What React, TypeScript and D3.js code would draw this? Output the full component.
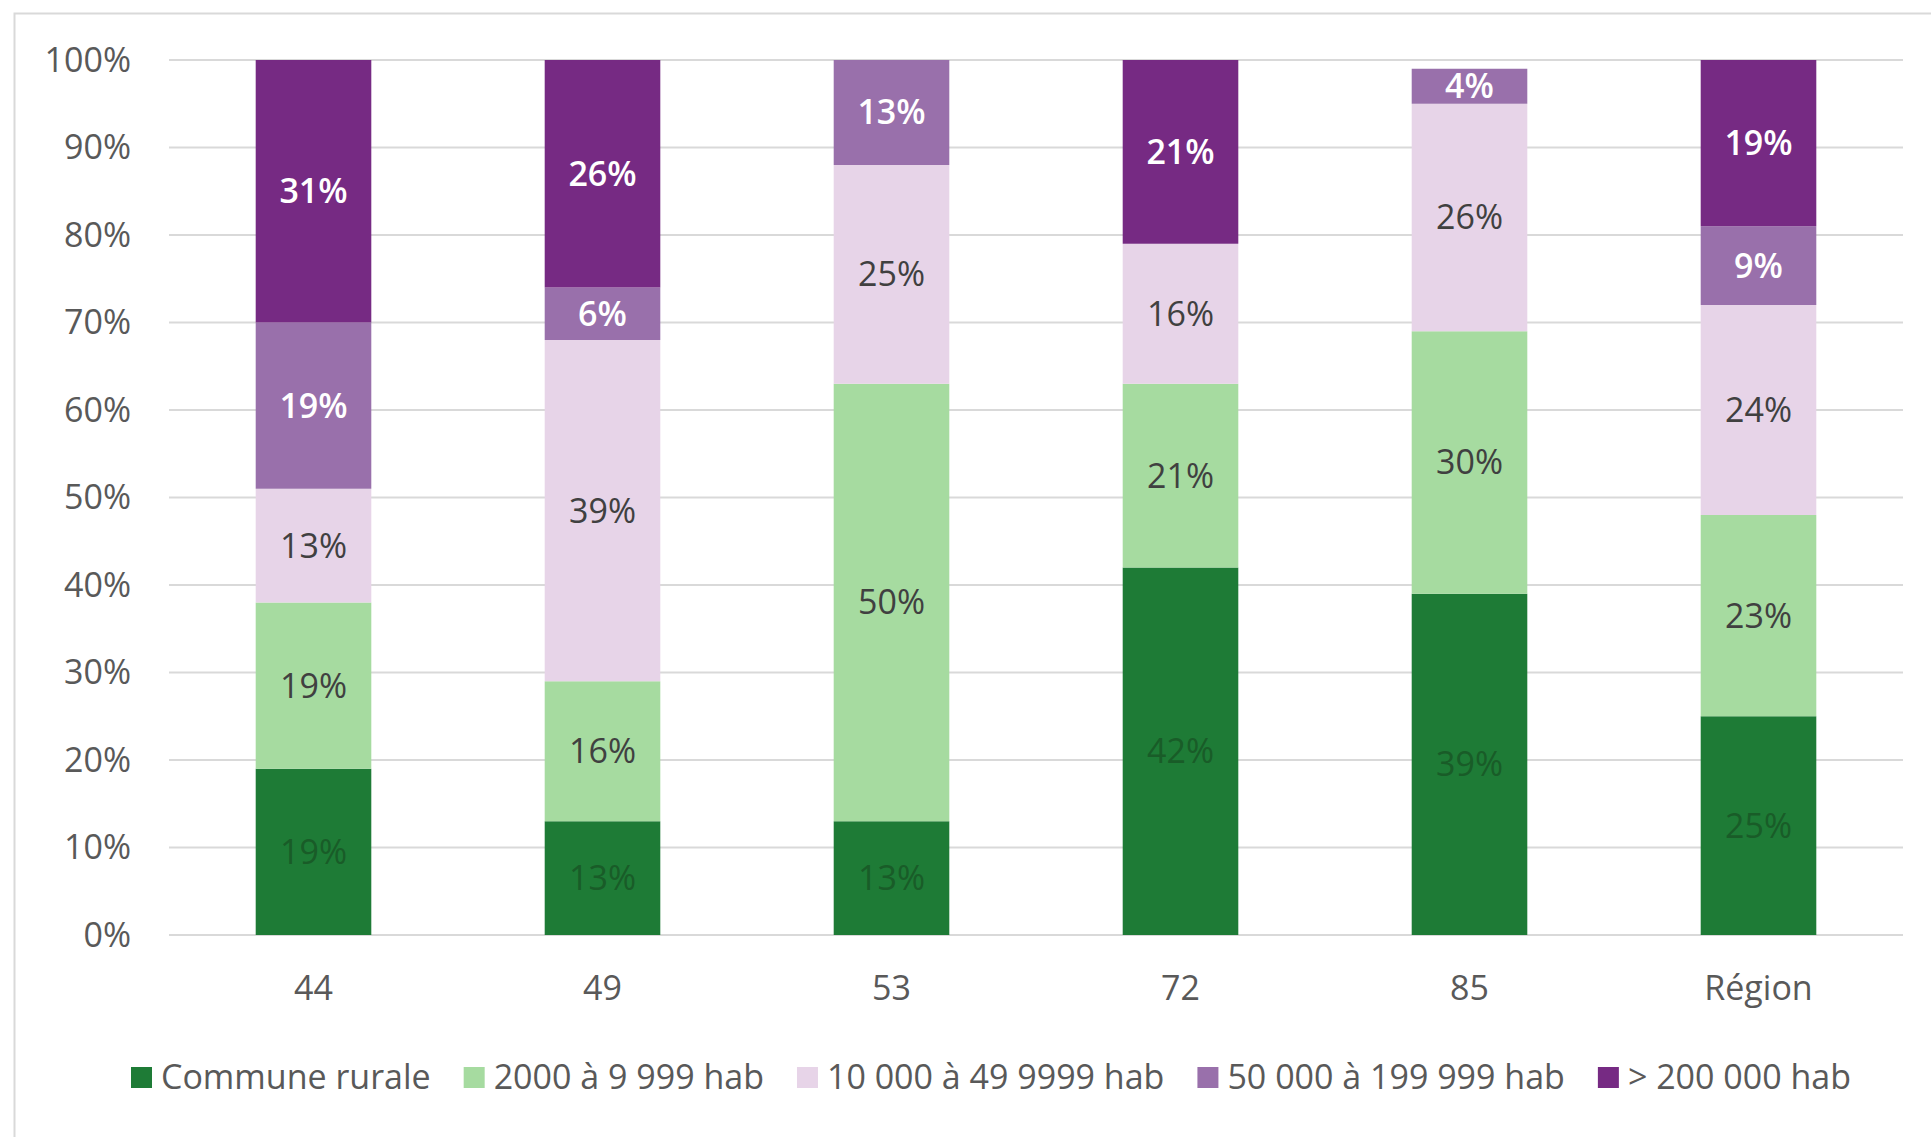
import { useEffect, useRef } from "react"
import * as d3 from "d3"

const categories = ["44", "49", "53", "72", "85", "Région"]
const seriesNames = [
  "Commune rurale",
  "2000 à 9 999 hab",
  "10 000 à 49 9999 hab",
  "50 000 à 199 999 hab",
  "> 200 000 hab",
]
const rurale = [19, 13, 13, 42, 39, 25]
const hab2000 = [19, 16, 50, 21, 30, 23]
const hab10000 = [13, 39, 25, 16, 26, 24]
const hab50000 = [19, 6, 13, 0, 4, 9]
const hab200000 = [31, 26, 0, 21, 0, 19]
const yTicks = [0, 10, 20, 30, 40, 50, 60, 70, 80, 90, 100]

const colors = ["#1e7b36", "#a6dba0", "#e7d4e8", "#9970ab", "#762a83"]
const labelColors = ["#195c28", "#404040", "#404040", "#ffffff", "#ffffff"]
const labelWeights = ["400", "400", "400", "600", "600"]

const W = 1931
const H = 1137
const FONT = "'Open Sans', sans-serif"
const FS = "34px"

export default function App() {
  const svgRef = useRef<SVGSVGElement>(null)

  useEffect(() => {
    if (!svgRef.current) return
    const svg = d3.select(svgRef.current)
    svg.selectAll("*").remove()

    const values = [rurale, hab2000, hab10000, hab50000, hab200000]
    const rows = categories.map((c, i) => {
      const r: any = { cat: c }
      seriesNames.forEach((s, k) => (r[s] = values[k][i]))
      return r
    })
    const stacked = d3.stack<any>().keys(seriesNames)(rows)

    const x = d3.scaleBand()
      .domain(categories)
      .range([169, 1903])
      .paddingInner(0.6)
      .paddingOuter(0.3)

    const y = d3.scaleLinear()
      .domain([0, 100])
      .range([935, 60])
      .clamp(true)

    // chart border (only top/left visible in the crop)
    svg.append("rect")
      .attr("x", 14.5)
      .attr("y", 13.5)
      .attr("width", W)
      .attr("height", H)
      .attr("fill", "white")
      .attr("stroke", "#d9d9d9")
      .attr("stroke-width", 2)

    // gridlines
    svg.append("g")
      .selectAll("line")
      .data(yTicks)
      .enter()
      .append("line")
      .attr("x1", 169)
      .attr("x2", 1903)
      .attr("y1", d => y(d))
      .attr("y2", d => y(d))
      .attr("stroke", "#d9d9d9")
      .attr("stroke-width", 2)

    // y labels
    svg.append("g")
      .selectAll("text")
      .data(yTicks)
      .enter()
      .append("text")
      .attr("x", 131)
      .attr("y", d => y(d))
      .attr("dy", "0.35em")
      .attr("text-anchor", "end")
      .style("font-family", FONT)
      .style("font-size", FS)
      .style("fill", "#595959")
      .text(d => `${d}%`)

    // bars
    stacked.forEach((layer, k) => {
      const g = svg.append("g")
      layer.forEach((seg, i) => {
        const v = seg[1] - seg[0]
        if (v <= 0) return
        const cx = x(categories[i])!
        const y0 = y(seg[0])
        const y1 = y(seg[1])
        g.append("rect")
          .attr("x", cx)
          .attr("y", y1)
          .attr("width", x.bandwidth())
          .attr("height", y0 - y1)
          .attr("fill", colors[k])
        g.append("text")
          .attr("x", cx + x.bandwidth() / 2)
          .attr("y", (y0 + y1) / 2)
          .attr("dy", "0.35em")
          .attr("text-anchor", "middle")
          .style("font-family", FONT)
          .style("font-size", FS)
          .style("font-weight", labelWeights[k])
          .style("fill", labelColors[k])
          .text(`${v}%`)
      })
    })

    // x labels
    svg.append("g")
      .selectAll("text")
      .data(categories)
      .enter()
      .append("text")
      .attr("x", d => x(d)! + x.bandwidth() / 2)
      .attr("y", 1000)
      .attr("text-anchor", "middle")
      .style("font-family", FONT)
      .style("font-size", FS)
      .style("fill", "#595959")
      .text(d => d)

    // legend, spread between x=131 and x=1851
    const legend = svg.append("g")
    const texts = seriesNames.map((s, k) =>
      legend.append("text")
        .attr("y", 1089)
        .style("font-family", FONT)
        .style("font-size", FS)
        .style("fill", "#595959")
        .text(s)
    )
    const widths = texts.map(t => (t.node() as SVGTextElement).getComputedTextLength())
    const used = d3.sum(widths) + 30 * seriesNames.length
    const gap = (1851 - 131 - used) / (seriesNames.length - 1)
    let lx = 131
    seriesNames.forEach((s, k) => {
      legend.append("rect")
        .attr("x", lx)
        .attr("y", 1067)
        .attr("width", 21)
        .attr("height", 21)
        .attr("fill", colors[k])
      texts[k].attr("x", lx + 30)
      lx += 30 + widths[k] + gap
    })
  }, [])

  return (
    <>
      <style>{"body{margin:0}"}</style>
      <svg ref={svgRef} width={W} height={H} style={{ display: "block", background: "white" }} />
    </>
  )
}
